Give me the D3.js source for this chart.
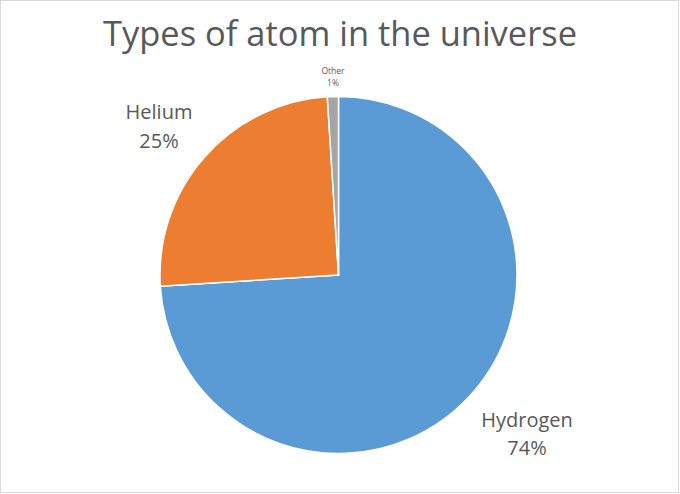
<!DOCTYPE html>
<html>
<head>
<meta charset="utf-8">
<script src="https://cdn.jsdelivr.net/npm/d3@7"></script>
<style>
  body { margin: 0; background: #fff; }
  text { font-family: "Open Sans", sans-serif; fill: #595959; }
</style>
</head>
<body>
<div id="chart"></div>
<script>
var categories = ["Hydrogen", "Helium", "Other"]
var values = [74, 25, 1]
var colors = ["#5B9BD5", "#ED7D31", "#A5A5A5"]
var chartTitle = "Types of atom in the universe"

var width = 680, height = 494
var cx = 338.5, cy = 275, radius = 178.5

var svg = d3.select("#chart")
  .append("svg")
  .attr("width", width)
  .attr("height", height)

// chart area border
svg.append("rect")
  .attr("x", 0.5).attr("y", 0.5)
  .attr("width", width - 2).attr("height", height - 2)
  .attr("fill", "#fff")
  .attr("stroke", "#d9d9d9")

svg.append("text")
  .attr("x", 340)
  .attr("y", 46)
  .attr("text-anchor", "middle")
  .attr("font-size", 35)
  .attr("textLength", 474)
  .attr("lengthAdjust", "spacingAndGlyphs")
  .text(chartTitle)

var data = categories.map(function (c, i) { return { name: c, value: values[i], color: colors[i] } })

var pie = d3.pie()
  .value(function (d) { return d.value })
  .sort(null)

var arc = d3.arc()
  .innerRadius(0)
  .outerRadius(radius)

var g = svg.append("g")
  .attr("transform", "translate(" + cx + "," + cy + ")")

g.selectAll("path")
  .data(pie(data))
  .enter()
  .append("path")
  .attr("d", arc)
  .attr("fill", function (d) { return d.data.color })
  .attr("stroke", "#fff")
  .attr("stroke-width", 1.5)

// labels sit outside the pie (best fit)
var labelPos = {
  "Hydrogen": { x: 527, y: 427, size: 20, gap: 28 },
  "Helium": { x: 159, y: 119, size: 20, gap: 29 },
  "Other": { x: 333, y: 73.5, size: 8.5, gap: 12 }
}

data.forEach(function (d) {
  var p = labelPos[d.name]
  var t = svg.append("g")
  t.append("text")
    .attr("text-anchor", "middle")
    .attr("font-size", p.size)
    .attr("x", p.x).attr("y", p.y)
    .text(d.name)
  t.append("text")
    .attr("text-anchor", "middle")
    .attr("font-size", p.size)
    .attr("x", p.x).attr("y", p.y + p.gap)
    .text(d3.format(".0%")(d.value / d3.sum(values)))
})
</script>
</body>
</html>
